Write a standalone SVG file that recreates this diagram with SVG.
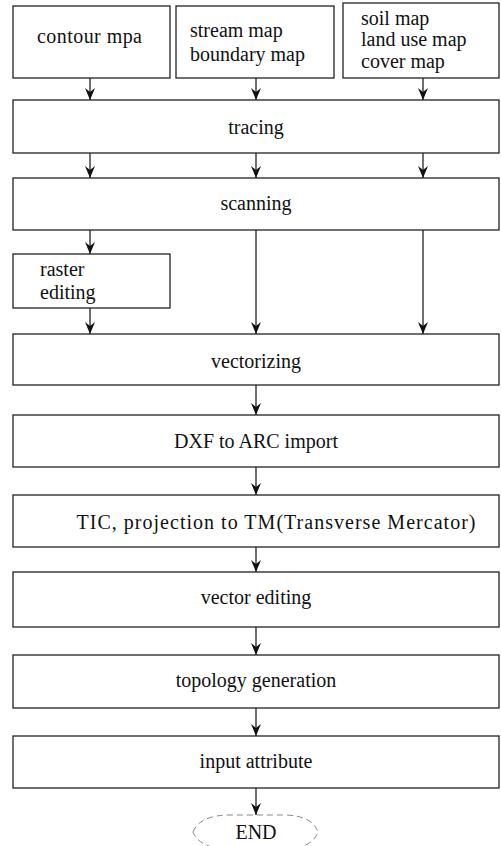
<svg xmlns="http://www.w3.org/2000/svg" width="501" height="846" viewBox="0 0 501 846">
<style>
.box{fill:#fff;stroke:#222;stroke-width:1.3}
.t{font-family:"Liberation Serif","DejaVu Serif",serif;font-size:20px;fill:#111}
.c{text-anchor:middle}
.ln{stroke:#222;stroke-width:1.3;fill:none}
.end{fill:#fff;stroke:#888;stroke-width:1;stroke-dasharray:6 4}
</style>
<defs>
<marker id="ah" viewBox="0 0 12 10" refX="12" refY="5" markerWidth="12" markerHeight="10" markerUnits="userSpaceOnUse" orient="auto">
<path d="M0,0 L12,5 L0,10 L4,5 Z" fill="#111"/>
</marker>
</defs>
<rect width="501" height="846" fill="#fff"/>
<g id="connectors">
<line class="ln" x1="90" y1="78" x2="90" y2="100" marker-end="url(#ah)"/>
<line class="ln" x1="256" y1="78" x2="256" y2="100" marker-end="url(#ah)"/>
<line class="ln" x1="423" y1="78" x2="423" y2="100" marker-end="url(#ah)"/>
<line class="ln" x1="90" y1="153" x2="90" y2="178" marker-end="url(#ah)"/>
<line class="ln" x1="256" y1="153" x2="256" y2="178" marker-end="url(#ah)"/>
<line class="ln" x1="423" y1="153" x2="423" y2="178" marker-end="url(#ah)"/>
<line class="ln" x1="90" y1="230" x2="90" y2="254" marker-end="url(#ah)"/>
<line class="ln" x1="90" y1="308" x2="90" y2="334" marker-end="url(#ah)"/>
<line class="ln" x1="256" y1="230" x2="256" y2="334" marker-end="url(#ah)"/>
<line class="ln" x1="423" y1="230" x2="423" y2="334" marker-end="url(#ah)"/>
<line class="ln" x1="256" y1="385" x2="256" y2="415" marker-end="url(#ah)"/>
<line class="ln" x1="256" y1="467" x2="256" y2="495" marker-end="url(#ah)"/>
<line class="ln" x1="256" y1="547" x2="256" y2="572" marker-end="url(#ah)"/>
<line class="ln" x1="256" y1="627" x2="256" y2="655" marker-end="url(#ah)"/>
<line class="ln" x1="256" y1="708" x2="256" y2="736" marker-end="url(#ah)"/>
<line class="ln" x1="256" y1="788" x2="256" y2="815" marker-end="url(#ah)"/>
</g>
<g id="contour">
<rect class="box" x="13" y="6" width="157" height="72"/>
<text class="t" x="37" y="43" textLength="105">contour mpa</text>
</g>
<g id="stream">
<rect class="box" x="176" y="6" width="158" height="72"/>
<text class="t" x="190" y="37">stream map</text>
<text class="t" x="190" y="61">boundary map</text>
</g>
<g id="soil">
<rect class="box" x="343" y="3" width="156" height="75"/>
<text class="t" x="361" y="25">soil map</text>
<text class="t" x="361" y="46">land use map</text>
<text class="t" x="361" y="68">cover map</text>
</g>
<g id="tracing">
<rect class="box" x="13" y="100" width="486" height="53"/>
<text class="t c" x="256" y="134">tracing</text>
</g>
<g id="scanning">
<rect class="box" x="13" y="178" width="486" height="52"/>
<text class="t c" x="256" y="210">scanning</text>
</g>
<g id="raster">
<rect class="box" x="13" y="254" width="157" height="54"/>
<text class="t" x="40" y="276">raster</text>
<text class="t" x="40" y="299">editing</text>
</g>
<g id="vectorizing">
<rect class="box" x="13" y="334" width="486" height="51"/>
<text class="t c" x="256" y="368">vectorizing</text>
</g>
<g id="dxf">
<rect class="box" x="13" y="415" width="486" height="52"/>
<text class="t c" x="256" y="448">DXF to ARC import</text>
</g>
<g id="tic">
<rect class="box" x="13" y="495" width="486" height="52"/>
<text class="t c" x="276" y="529" textLength="399">TIC, projection to TM(Transverse Mercator)</text>
</g>
<g id="vedit">
<rect class="box" x="13" y="572" width="486" height="55"/>
<text class="t c" x="256" y="604">vector editing</text>
</g>
<g id="topology">
<rect class="box" x="13" y="655" width="486" height="53"/>
<text class="t c" x="256" y="687">topology generation</text>
</g>
<g id="input">
<rect class="box" x="13" y="736" width="486" height="52"/>
<text class="t c" x="256" y="768">input attribute</text>
</g>
<g id="end">
<path class="end" d="M193,832 Q200,815 230,815 L283,815 Q312,815 318,832 Q312,849 283,849 L230,849 Q200,849 193,832 Z"/>
<text class="t c" x="256" y="839">END</text>
</g>
</svg>
